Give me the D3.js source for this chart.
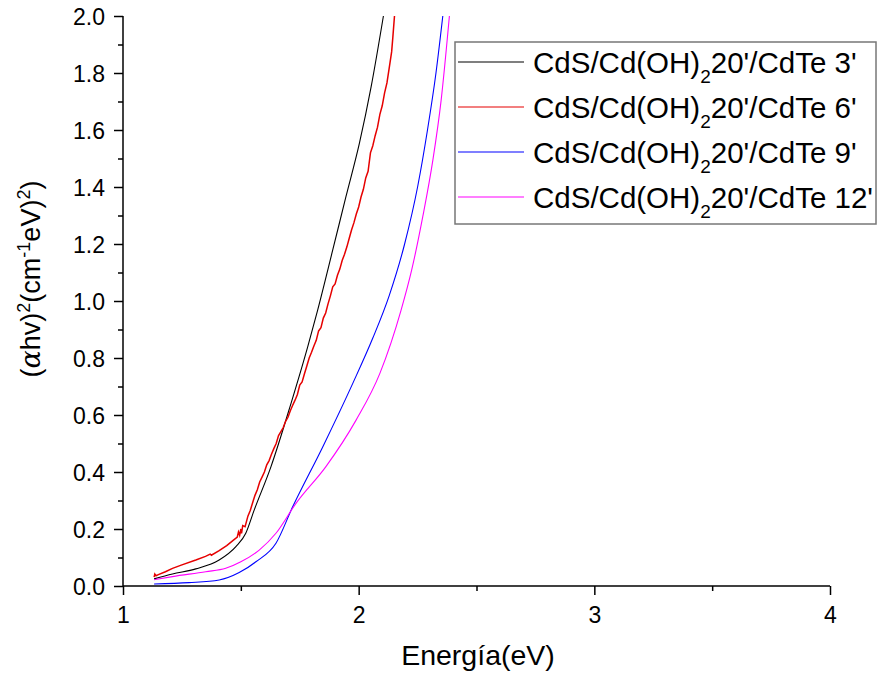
<!DOCTYPE html>
<html>
<head>
<meta charset="utf-8">
<script src="https://cdn.jsdelivr.net/npm/d3@7"></script>
<style>
  body { margin: 0; background: #fff; }
  text { font-family: "Liberation Sans", Arial, sans-serif; }
</style>
</head>
<body>
<svg id="chart" width="878" height="677"></svg>
<script>
// energy (eV) / (alpha h v)^2
const e3 = [1.132, 1.21, 1.309, 1.408, 1.479, 1.521, 1.557, 1.628, 1.713, 1.784, 1.826, 1.890, 1.946, 2.003, 2.053, 2.105];
const v3 = [0.025, 0.042, 0.06, 0.091, 0.138, 0.185, 0.267, 0.419, 0.641, 0.84, 0.968, 1.179, 1.366, 1.553, 1.752, 2.0];

// the 6' curve is noisy, so it keeps its small zigzags
const e6 = [1.132, 1.135, 1.14, 1.15, 1.18, 1.21, 1.25, 1.309, 1.35, 1.37, 1.375, 1.408, 1.44, 1.47, 1.485, 1.49, 1.495, 1.50, 1.503, 1.508, 1.518,
  1.53, 1.54, 1.55, 1.56, 1.57, 1.58, 1.59, 1.60, 1.61, 1.62, 1.63, 1.64, 1.65, 1.66, 1.67, 1.68, 1.69, 1.70, 1.71, 1.72, 1.73, 1.74,
  1.75, 1.76, 1.77, 1.78, 1.79, 1.80, 1.81, 1.82, 1.83, 1.84, 1.85, 1.86, 1.87, 1.88, 1.89, 1.90, 1.91, 1.92, 1.93, 1.94, 1.95, 1.96,
  1.97, 1.98, 1.99, 2.00, 2.01, 2.02, 2.03, 2.04, 2.05, 2.06, 2.07, 2.08, 2.09, 2.10, 2.11, 2.12, 2.13, 2.14, 2.145, 2.152];
const v6 = [0.031, 0.042, 0.036, 0.040, 0.050, 0.062, 0.074, 0.091, 0.104, 0.112, 0.108, 0.124, 0.142, 0.162, 0.172, 0.19, 0.178, 0.20, 0.185, 0.212, 0.208,
  0.245, 0.265, 0.292, 0.318, 0.338, 0.365, 0.382, 0.4, 0.425, 0.44, 0.462, 0.482, 0.5, 0.528, 0.542, 0.556, 0.578, 0.592, 0.615, 0.634, 0.652, 0.672,
  0.705, 0.716, 0.745, 0.772, 0.8, 0.82, 0.842, 0.862, 0.895, 0.906, 0.94, 0.958, 0.99, 1.018, 1.05, 1.06, 1.09, 1.112, 1.142, 1.164, 1.19, 1.22,
  1.25, 1.275, 1.305, 1.33, 1.365, 1.392, 1.432, 1.455, 1.52, 1.545, 1.58, 1.61, 1.655, 1.685, 1.73, 1.765, 1.82, 1.875, 1.925, 2.0];

const e9 = [1.132, 1.28, 1.408, 1.493, 1.564, 1.649, 1.72, 1.848, 1.975, 2.06, 2.13, 2.195, 2.25, 2.292, 2.328, 2.357];
const v9 = [0.007, 0.012, 0.021, 0.047, 0.085, 0.15, 0.278, 0.489, 0.711, 0.87, 1.02, 1.2, 1.4, 1.6, 1.8, 2.0];

const e12 = [1.132, 1.21, 1.351, 1.436, 1.50, 1.578, 1.649, 1.734, 1.861, 1.989, 2.09, 2.18, 2.225, 2.272, 2.315, 2.350, 2.385];
const v12 = [0.022, 0.033, 0.05, 0.062, 0.085, 0.126, 0.185, 0.29, 0.419, 0.582, 0.746, 0.968, 1.109, 1.296, 1.495, 1.705, 2.0];

const seriesNames = ["3'", "6'", "9'", "12'"];
const seriesColors = ["#000000", "#e60000", "#0000ff", "#ff00ff"];
const xTicks = [1, 2, 3, 4];
const yTicks = [0, 0.2, 0.4, 0.6, 0.8, 1.0, 1.2, 1.4, 1.6, 1.8, 2.0];

const series = [[e3, v3], [e6, v6], [e9, v9], [e12, v12]].map((s, i) => ({
  name: seriesNames[i],
  color: seriesColors[i],
  pts: s[0].map((x, j) => [x, s[1][j]])
}));

const svg = d3.select("#chart");
const mLeft = 123, mRight = 830, mTop = 16, mBottom = 586;

const x = d3.scaleLinear().domain([1, 4]).range([mLeft, mRight]);
const y = d3.scaleLinear().domain([0, 2]).range([mBottom, mTop]);

svg.append("defs").append("clipPath").attr("id", "clip")
  .append("rect").attr("x", mLeft).attr("y", mTop - 1).attr("width", mRight - mLeft).attr("height", mBottom - mTop + 1);

// curves
const line = d3.line().x(d => x(d[0])).y(d => y(d[1]));
const g = svg.append("g").attr("clip-path", "url(#clip)");
series.forEach((s, i) => {
  g.append("path")
    .attr("d", line.curve(i === 1 ? d3.curveLinear : d3.curveMonotoneX)(s.pts))
    .attr("fill", "none")
    .attr("stroke", s.color)
    .attr("stroke-width", i === 1 ? 1.5 : 1.1);
});

// axes
const xAxis = svg.append("g").attr("transform", `translate(0,${mBottom})`);
xAxis.call(d3.axisBottom(x).tickValues(d3.range(1, 4.01, 0.5)).tickSize(0).tickFormat(""));
xAxis.selectAll(".tick line").remove();
xAxis.selectAll(".tick").append("line")
  .attr("y2", d => Number.isInteger(d) ? 9 : 5)
  .attr("stroke", "#000").attr("stroke-width", 1.5);
xAxis.select(".domain").attr("stroke-width", 1.5).attr("d", `M${mLeft},0H${mRight}`);
xAxis.selectAll(".tick").filter(d => xTicks.includes(d)).append("text")
  .attr("y", 37).attr("fill", "#000").attr("font-size", 23)
  .attr("text-anchor", "middle").text(d => d);

const yAxis = svg.append("g").attr("transform", `translate(${mLeft},0)`);
yAxis.call(d3.axisLeft(y).tickValues(d3.range(0, 20.5, 1).map(v => v / 10)).tickSize(0).tickFormat(""));
yAxis.selectAll(".tick line").remove();
yAxis.select(".domain").attr("stroke-width", 1.5).attr("d", `M0,${mBottom}V${mTop}`);
yAxis.selectAll(".tick").append("line")
  .attr("x2", (d, i) => i % 2 === 0 ? -9 : -5)
  .attr("stroke", "#000").attr("stroke-width", 1.5);
yAxis.selectAll(".tick").filter(d => yTicks.some(t => Math.abs(t - d) < 1e-9)).append("text")
  .attr("x", -18).attr("dy", "0.35em").attr("fill", "#000").attr("font-size", 23)
  .attr("text-anchor", "end").text(d => d3.format(".1f")(d));

// axis titles
svg.append("text").attr("x", 478).attr("y", 665)
  .attr("text-anchor", "middle").attr("font-size", 28.5).text("Energía(eV)");

const yt = svg.append("text")
  .attr("transform", "translate(40,279) rotate(-90)")
  .attr("text-anchor", "middle").attr("font-size", 27);
yt.append("tspan").text("(");
yt.append("tspan").attr("font-family", "DejaVu Serif").attr("font-style", "italic").text("α");
yt.append("tspan").text("hv)");
yt.append("tspan").attr("font-size", 18).attr("dy", -10).text("2");
yt.append("tspan").attr("dy", 10).text("(cm");
yt.append("tspan").attr("font-size", 18).attr("dy", -10).text("-1");
yt.append("tspan").attr("dy", 10).text("eV)");
yt.append("tspan").attr("font-size", 18).attr("dy", -10).text("2");
yt.append("tspan").attr("dy", 10).text(")");

// legend
const lg = svg.append("g");
lg.append("rect").attr("x", 455).attr("y", 42).attr("width", 421).attr("height", 182)
  .attr("fill", "#fff").attr("stroke", "#777").attr("stroke-width", 1.5);
series.forEach((s, i) => {
  const ly = 62 + i * 45;
  lg.append("line").attr("x1", 458).attr("x2", 524).attr("y1", ly).attr("y2", ly)
    .attr("stroke", s.color).attr("stroke-width", 1.2);
  const t = lg.append("text").attr("x", 533).attr("y", ly + 11).attr("font-size", 29.5);
  t.append("tspan").text("CdS/Cd(OH)");
  t.append("tspan").attr("font-size", 19).attr("dy", 10).text("2");
  t.append("tspan").attr("dy", -10).text("20'/CdTe " + s.name);
});
</script>
</body>
</html>
